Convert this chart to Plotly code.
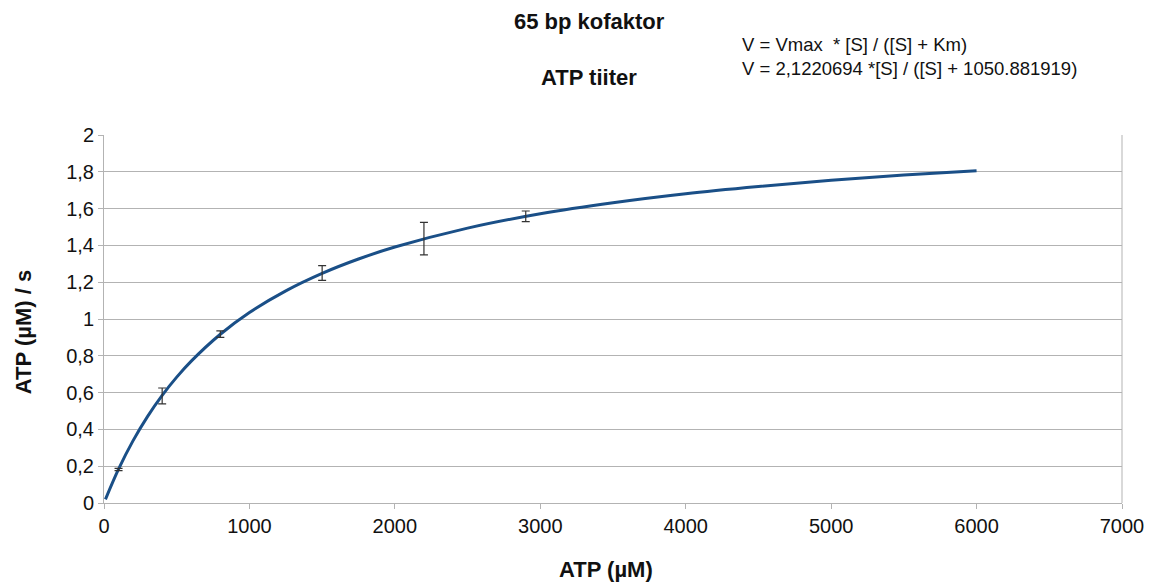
import plotly.graph_objects as go

# Fit curve (Michaelis-Menten fit shown on chart), values read at these substrate points
curve_x = [10, 100, 200, 300, 400, 500, 600, 800, 1000, 1250, 1500, 1750, 2000,
           2500, 3000, 3500, 4000, 4500, 5000, 5500, 6000]
curve_y = [0.020, 0.184, 0.339, 0.471, 0.585, 0.684, 0.771, 0.917, 1.035, 1.153,
           1.248, 1.326, 1.391, 1.494, 1.572, 1.632, 1.681, 1.720, 1.754, 1.782, 1.806]

# Measured points with error bars
pts_x = [100, 400, 800, 1500, 2200, 2900]
pts_y = [0.182, 0.582, 0.918, 1.250, 1.437, 1.558]
pts_err = [0.006, 0.043, 0.018, 0.040, 0.088, 0.029]

y_tickvals = [0, 0.2, 0.4, 0.6, 0.8, 1.0, 1.2, 1.4, 1.6, 1.8, 2.0]
y_ticktext = ["0", "0,2", "0,4", "0,6", "0,8", "1", "1,2", "1,4", "1,6", "1,8", "2"]
x_tickvals = [0, 1000, 2000, 3000, 4000, 5000, 6000, 7000]

FONT = "Liberation Sans, Arial, sans-serif"
OFF = 8  # default body margin of the html page
W, H = 1156 - OFF, 582 - OFF
L, T, R, B = 104 - OFF, 135 - OFF, 32, 79
PW, PH = W - L - R, H - T - B

def px(x):
    return (x - OFF - L) / PW

def py(y):
    return 1 - (y - OFF - T) / PH

fig = go.Figure()
fig.add_trace(go.Scatter(
    x=curve_x, y=curve_y, mode="lines", line=dict(color="#1a4f87", width=3, shape="spline"),
    showlegend=False, hoverinfo="skip"))
fig.add_trace(go.Scatter(
    x=pts_x, y=pts_y, mode="markers",
    marker=dict(size=1, color="rgba(0,0,0,0)"),
    error_y=dict(type="data", array=pts_err, visible=True, color="#333333", thickness=1.2, width=4),
    showlegend=False))

fig.update_layout(
    width=W, height=H,
    margin=dict(l=L, r=R, t=T, b=B),
    paper_bgcolor="white", plot_bgcolor="white",
    font=dict(family=FONT, size=20, color="#111111"),
    xaxis=dict(range=[0, 7000], tickvals=x_tickvals, showgrid=False, zeroline=False,
               showline=True, linecolor="#b3b3b3", linewidth=1, mirror=False,
               ticks="outside", ticklen=5, tickcolor="#b3b3b3",
               tickfont=dict(size=20, family=FONT)),
    yaxis=dict(range=[0, 2], tickvals=y_tickvals, ticktext=y_ticktext,
               showgrid=True, gridcolor="#b3b3b3", gridwidth=1, zeroline=False,
               showline=True, linecolor="#b3b3b3", linewidth=1,
               ticks="outside", ticklen=5, tickcolor="#b3b3b3",
               tickfont=dict(size=20, family=FONT)),
    shapes=[dict(type="line", xref="paper", yref="paper", x0=1, x1=1, y0=0, y1=1,
                 line=dict(color="#b3b3b3", width=1))],
    annotations=[
        dict(text="<b>65 bp kofaktor</b>", x=px(590), y=py(21), xref="paper", yref="paper",
             showarrow=False, yanchor="middle", font=dict(size=22, family=FONT)),
        dict(text="<b>ATP tiiter</b>", x=px(590), y=py(78), xref="paper", yref="paper",
             showarrow=False, yanchor="middle", font=dict(size=22, family=FONT)),
        dict(text="V = Vmax  * [S] / ([S] + Km)", x=px(741), y=py(45), xref="paper", yref="paper",
             showarrow=False, xanchor="left", yanchor="middle", font=dict(size=18.5, family=FONT)),
        dict(text="V = 2,1220694 *[S] / ([S] + 1050.881919)", x=px(741), y=py(68.5),
             xref="paper", yref="paper",
             showarrow=False, xanchor="left", yanchor="middle", font=dict(size=18.5, family=FONT)),
        dict(text="<b>ATP (µM)</b>", x=px(607), y=py(569), xref="paper", yref="paper",
             showarrow=False, yanchor="middle", font=dict(size=22, family=FONT)),
        dict(text="<b>ATP (µM) / s</b>", x=px(23), y=py(332), xref="paper", yref="paper",
             showarrow=False, textangle=-90, xanchor="center", yanchor="middle",
             font=dict(size=22, family=FONT)),
    ],
)

fig.write_html("out.html")
